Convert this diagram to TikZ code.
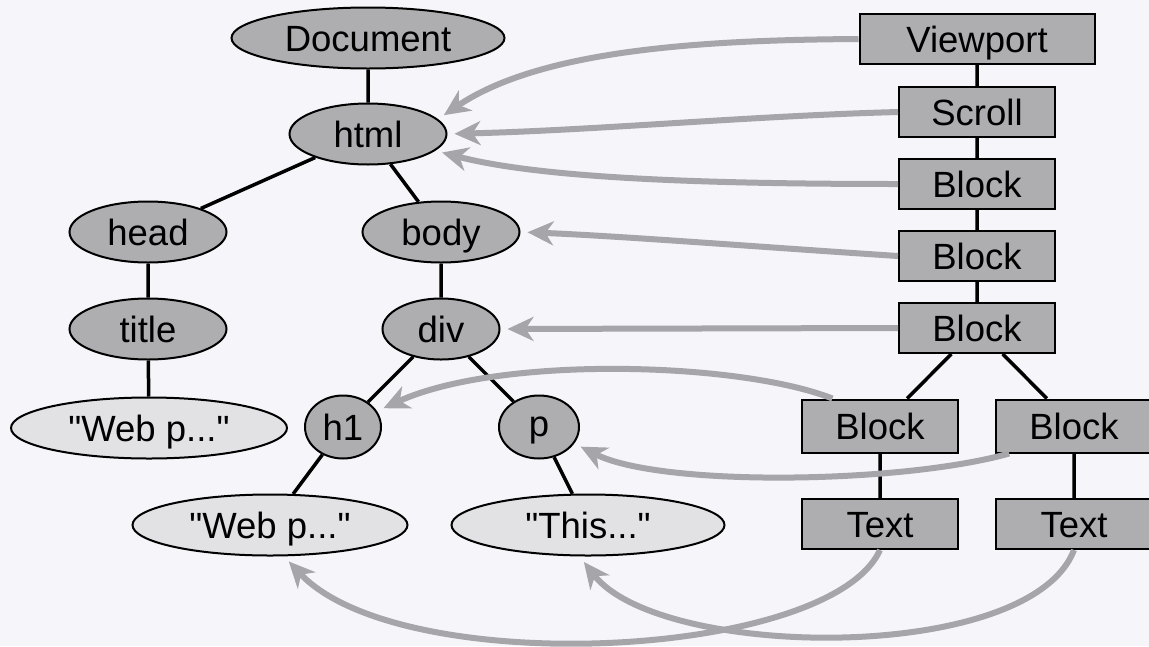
\documentclass[tikz,border=0pt]{standalone}
\usepackage{fontspec}
\newfontfamily\labelfont{Liberation Sans}
\usetikzlibrary{shapes.geometric,arrows.meta}
\definecolor{paper}{RGB}{246,245,249}
\definecolor{nodegrey}{RGB}{174,174,176}
\definecolor{leafgrey}{RGB}{226,226,229}
\definecolor{linkgrey}{RGB}{166,166,170}

\begin{document}
\begin{tikzpicture}[x=1pt,y=-1pt,
    every node/.style={font=\labelfont\fontsize{36.5}{40}\selectfont, inner sep=0pt, text height=26pt, text depth=0pt},
    domnode/.style={ellipse, draw, line width=2pt, fill=nodegrey, minimum height=61pt},
    leafnode/.style={domnode, fill=leafgrey},
    layoutbox/.style={rectangle, draw, line width=2pt, fill=nodegrey, minimum width=156pt, minimum height=50pt},
    treeline/.style={line width=3.5pt},
    mapping/.style={draw=linkgrey, line width=6pt, shorten >=7pt, -{Stealth[length=26pt,width=24pt,inset=8pt]}}]
    \useasboundingbox (0,0) rectangle (1149,646);
    \fill[paper] (0,0) rectangle (1149,646);

    % DOM tree
    \node[domnode, minimum width=273pt] (doc) at (368,38) {Document};
    \node[domnode, minimum width=157pt] (html) at (368,134) {html};
    \node[domnode, minimum width=157pt] (head) at (148,232) {head};
    \node[domnode, minimum width=157pt] (body) at (441,232) {body};
    \node[domnode, minimum width=157pt] (title) at (148,329) {title};
    \node[domnode, minimum width=117pt] (div) at (441,329) {div};
    \node[leafnode, minimum width=276pt] (webA) at (149,428) {"Web p..."};
    \node[domnode, minimum width=76pt, minimum height=63pt] (h1) at (343,427) {h1};
    \node[domnode, minimum width=80pt, minimum height=63pt, text height=22pt, text depth=4pt] (p) at (539,427) {p};
    \node[leafnode, minimum width=275pt] (webB) at (270,525) {"Web p..."};
    \node[leafnode, minimum width=273pt] (this) at (588,525) {"This..."};
    \draw[treeline] (doc) -- (html) (html) -- (head) (html) -- (body)
        (head) -- (title) (title) -- (webA) (body) -- (div)
        (div) -- (h1) (div) -- (p) (h1) -- (webB) (p) -- (this);

    % layout tree
    \node[layoutbox, minimum width=235pt] (viewport) at (977,39) {Viewport};
    \node[layoutbox] (scroll) at (977,112) {Scroll};
    \node[layoutbox] (blockA) at (977,184) {Block};
    \node[layoutbox] (blockB) at (977,256) {Block};
    \node[layoutbox] (blockC) at (977,328) {Block};
    \node[layoutbox, minimum height=53pt] (blockL) at (880,426) {Block};
    \node[layoutbox, minimum height=53pt] (blockR) at (1074,426) {Block};
    \node[layoutbox] (textL) at (880,524) {Text};
    \node[layoutbox] (textR) at (1074,524) {Text};
    \draw[treeline] (viewport) -- (scroll) (scroll) -- (blockA) (blockA) -- (blockB)
        (blockB) -- (blockC) (blockC) -- (blockL) (blockC) -- (blockR)
        (blockL) -- (textL) (blockR) -- (textR);

    % links back to the DOM
    \draw[mapping] (viewport.west) .. controls (700,40) and (540,50) .. (html.12);
    \draw[mapping] (scroll.west) .. controls (750,116) and (600,130) .. (html.east);
    \draw[mapping] (blockA.west) .. controls (700,184) and (540,178) .. (html.-14);
    \draw[mapping] (blockB.west) .. controls (760,247) and (620,236) .. (body.east);
    \draw[mapping] (blockC.west) -- (div.east);
    \draw[mapping] (blockL.150) .. controls (740,362) and (500,355) .. (h1.25);
    \draw[mapping] (blockR.203) .. controls (900,484) and (660,487) .. (p.-25);
    \draw[mapping] (textL.south) .. controls (830,660) and (400,680) .. (webB.-66);
    \draw[mapping] (textR.south) .. controls (1030,665) and (660,660) .. (this.-105);
\end{tikzpicture}
\end{document}
